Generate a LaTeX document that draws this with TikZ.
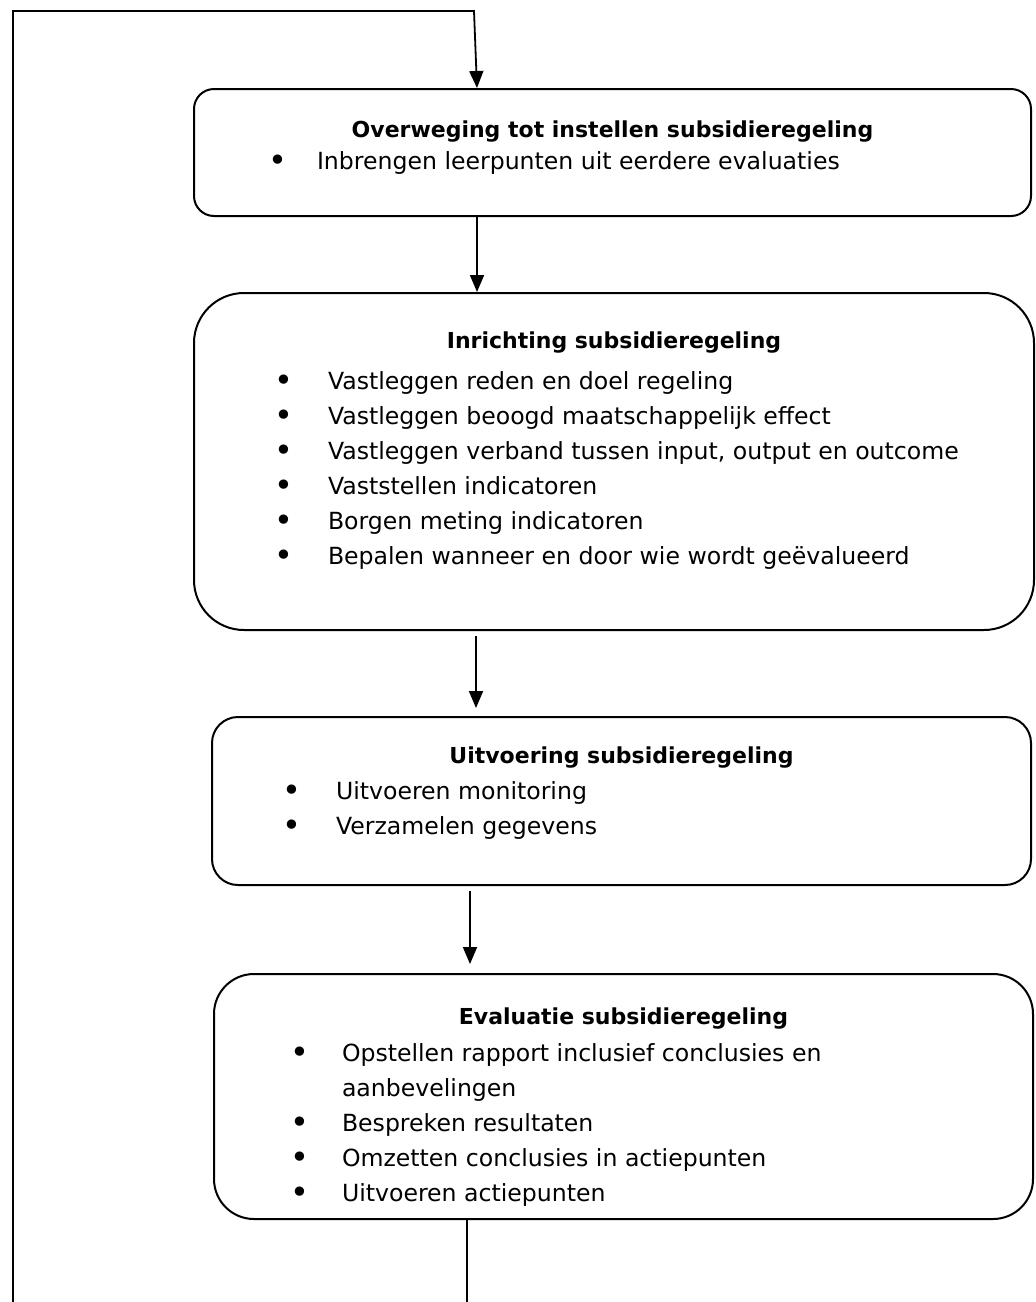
\documentclass[tikz,border=0pt]{standalone}
\usepackage{fontspec}
\setmainfont{DejaVu Sans}
\usetikzlibrary{arrows.meta, positioning}

% box content: width, height, top skip, lines
\newcommand{\boxbody}[4]{\begin{minipage}[c][#2][t]{#1}\vspace*{#3}#4\end{minipage}}
\newcommand{\boxtitle}[1]{{\centering\fontsize{11pt}{17.5pt}\selectfont\bfseries #1\strut\par}}
\newcommand{\bigdot}{\raisebox{-1.2pt}{\fontsize{16pt}{0pt}\selectfont\textbullet}}
% bullet item: bullet indent, text indent, text
\newcommand{\bitem}[3]{\par\hangindent=#2\hangafter=1\noindent\hspace*{#1}\makebox[\dimexpr#2-#1\relax][l]{\bigdot}#3\strut\par}

\begin{document}
\begin{tikzpicture}[
        x=0.5pt, y=-0.5pt,
        box/.style={rectangle, draw=black, line width=1pt, inner sep=0pt, font=\fontsize{11.8pt}{17.5pt}\selectfont},
        arrow/.style={-{Triangle[width=7pt, length=8.5pt]}, line width=0.9pt},
        link/.style={line width=0.9pt}
    ]
        \useasboundingbox (0,0) rectangle (1036,1302);

        % Boxes
        \node[box, rounded corners=10pt, anchor=north west] (plan) at (193,88)
            {\boxbody{418.5pt}{63.5pt}{12pt}{%
                \boxtitle{Overweging tot instellen subsidieregeling}\vspace{-1.5pt}
                \bitem{37pt}{61.5pt}{Inbrengen leerpunten uit eerdere evaluaties}}};
        \node[box, rounded corners=25pt, below=37.5pt of plan.south west, anchor=north west] (setup)
            {\boxbody{420pt}{168.5pt}{15.5pt}{%
                \boxtitle{Inrichting subsidieregeling}\vspace{3pt}
                \bitem{40pt}{67pt}{Vastleggen reden en doel regeling}
                \bitem{40pt}{67pt}{Vastleggen beoogd maatschappelijk effect}
                \bitem{40pt}{67pt}{Vastleggen verband tussen input, output en outcome}
                \bitem{40pt}{67pt}{Vaststellen indicatoren}
                \bitem{40pt}{67pt}{Borgen meting indicatoren}
                \bitem{40pt}{67pt}{Bepalen wanneer en door wie wordt geëvalueerd}}};
        \node[box, rounded corners=13pt, below=42.5pt of setup.south west, anchor=north west, xshift=9pt] (run)
            {\boxbody{409.5pt}{84pt}{11pt}{%
                \boxtitle{Uitvoering subsidieregeling}\vspace{0.5pt}
                \bitem{35pt}{62pt}{Uitvoeren monitoring}
                \bitem{35pt}{62pt}{Verzamelen gegevens}}};
        \node[box, rounded corners=20pt, below=43.5pt of run.south west, anchor=north west, xshift=1pt] (review)
            {\boxbody{409.5pt}{122.5pt}{13pt}{%
                \boxtitle{Evaluatie subsidieregeling}\vspace{1pt}
                \bitem{38pt}{64pt}{Opstellen rapport inclusief conclusies en\newline aanbevelingen}
                \bitem{38pt}{64pt}{Bespreken resultaten}
                \bitem{38pt}{64pt}{Omzetten conclusies in actiepunten}
                \bitem{38pt}{64pt}{Uitvoeren actiepunten}}};

        % Feedback loop
        \coordinate (spine) at (477,0);
        \coordinate (spineb) at (476,0);
        \coordinate (spinec) at (470,0);
        \coordinate (drain) at (467,1302);
        \coordinate (back) at (13,1302);
        \coordinate (corner) at (13,11);
        \coordinate (entry) at (474,11);

        % Arrows
        \draw[arrow] (back) -- (corner) -- (entry) -- (plan.north -| spine);
        \draw[arrow] (plan.south -| spine) -- (setup.north -| spine);
        \draw[arrow, shorten <=2.5pt, shorten >=4pt] (setup.south -| spineb) -- (run.north -| spineb);
        \draw[arrow, shorten <=2.5pt, shorten >=4.5pt] (run.south -| spinec) -- (review.north -| spinec);
        \draw[link] (review.south -| drain) -- (drain);
\end{tikzpicture}
\end{document}
